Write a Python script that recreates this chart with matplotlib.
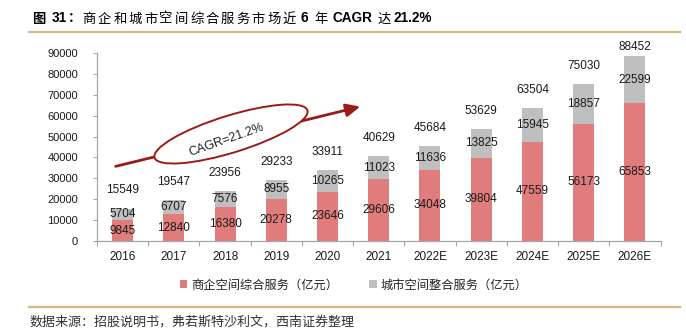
import numpy as np
import matplotlib
matplotlib.use("Agg")
import matplotlib.pyplot as plt
from matplotlib.patches import Patch, Ellipse, FancyArrowPatch
from matplotlib.lines import Line2D

plt.rcParams['font.family'] = ['Liberation Sans', 'Noto Sans CJK SC', 'DejaVu Sans']

# ---- data (亿元) ----
years = ["2016", "2017", "2018", "2019", "2020", "2021",
         "2022E", "2023E", "2024E", "2025E", "2026E"]
commercial = [9845, 12840, 16380, 20278, 23646, 29606,
              34048, 39804, 47559, 56173, 65853]
city = [5704, 6707, 7576, 8955, 10265, 11023,
        11636, 13825, 15945, 18857, 22599]
totals = [15549, 19547, 23956, 29233, 33911, 40629,
          45684, 53629, 63504, 75030, 88452]
legend_labels = ["商企空间综合服务（亿元）", "城市空间整合服务（亿元）"]
cagr_label = "CAGR=21.2%"

RED = "#E07C7C"
GRAY = "#BFBFBF"
DARKRED = "#9B1B1B"
TAN = "#D6B885"
TXT = "#1a1a1a"
CJK = ['Noto Sans CJK SC', 'DejaVu Sans']

W, H, DPI = 686, 333, 100
fig = plt.figure(figsize=(W / DPI, H / DPI), dpi=DPI)


def fx(x):
    return x / W


def fy(y):
    return 1 - y / H


ax = fig.add_axes([fx(97), fy(241), fx(660.5) - fx(97), fy(53) - fy(241)])

x = np.arange(len(years))
bw = 0.41
ax.bar(x, commercial, width=bw, color=RED, zorder=2)
ax.bar(x, city, width=bw, bottom=commercial, color=GRAY, zorder=2)

for i in range(len(years)):
    c, g, t = commercial[i], city[i], totals[i]
    ax.text(i, c / 2, f"{c}", ha="center", va="center", fontsize=8.5, color=TXT, zorder=3)
    ax.text(i, c + g / 2, f"{g}", ha="center", va="center", fontsize=8.5, color=TXT, zorder=3)
    # the tallest bar's total sits closer so it stays inside the frame
    off = 6.5 if i == len(years) - 1 else 13
    ax.annotate(f"{t}", (i, t), xytext=(0, off), textcoords="offset points",
                ha="center", va="center", fontsize=8.5, color=TXT,
                annotation_clip=False)

ax.set_xlim(-0.5, len(years) - 0.5)
ax.set_ylim(0, 90000)
ax.set_yticks(np.arange(0, 90001, 10000))
ax.set_xticks(x)
ax.set_xticklabels(years)
ax.set_xticks(np.arange(-0.5, len(years), 1.0), minor=True)
ax.tick_params(axis="x", which="major", length=0, pad=7, labelsize=8.5, labelcolor=TXT)
ax.tick_params(axis="x", which="minor", length=3.5, color="#A6A6A6", width=0.8)
ax.tick_params(axis="y", length=3, color="#A6A6A6", width=0.8, pad=10.5,
               labelsize=8, labelcolor=TXT)
for s in ["top", "right"]:
    ax.spines[s].set_visible(False)
for s in ["left", "bottom"]:
    ax.spines[s].set_color("#A6A6A6")
    ax.spines[s].set_linewidth(0.9)

# ---- growth arrow with CAGR bubble ----
arrow = FancyArrowPatch((fx(113), fy(167)), (fx(363), fy(106)),
                        transform=fig.transFigure,
                        arrowstyle="-|>,head_length=0.7,head_width=0.32",
                        mutation_scale=12, lw=2.0, color=DARKRED, zorder=5)
fig.add_artist(arrow)
ell = Ellipse((2.31, H / DPI - 1.34), width=1.60, height=0.37, angle=17.2,
              transform=fig.dpi_scale_trans, facecolor="white",
              edgecolor=DARKRED, lw=1.4, zorder=6)
fig.add_artist(ell)
fig.text(fx(227), fy(140), cagr_label, rotation=19.5, rotation_mode="anchor",
         ha="center", va="center", fontsize=9, color="#222222", zorder=7)

# ---- legend ----
handles = [Patch(facecolor=RED, edgecolor="none"), Patch(facecolor=GRAY, edgecolor="none")]
fig.legend(handles, legend_labels, loc="center", bbox_to_anchor=(fx(354), fy(285)),
           ncol=2, frameon=False, prop={"family": CJK, "size": 8.8},
           handlelength=0.6, handleheight=0.6, handletextpad=0.35,
           columnspacing=2.5, labelcolor="#222222")

# ---- header and footer rules ----
fig.add_artist(Line2D([fx(29), fx(680)], [fy(32), fy(32)], color=TAN, lw=1.6,
                      transform=fig.transFigure))
fig.add_artist(Line2D([fx(29), fx(680)], [fy(307), fy(307)], color=TAN, lw=1.6,
                      transform=fig.transFigure))

# ---- title, set token by token with letter spacing ----
renderer = fig.canvas.get_renderer()
cjk_gap = 2.0
title_tokens = [("图", "bold", 6), ("31", "bold", 1.5), ("：", "bold", 1)]
title_tokens += [(ch, "medium", cjk_gap) for ch in "商企和城市空间综合服务市场近"]
title_tokens[-1] = ("近", "medium", 5)
title_tokens += [("6", "bold", 6), ("年", "medium", 5), ("CAGR", "bold", 4.5),
                 ("达", "medium", 3), ("21.2%", "bold", 0)]
cx = 32
for tok, wt, gap in title_tokens:
    fam = ['Liberation Sans'] + CJK if tok.isascii() else CJK
    size = 9.8 if tok.isascii() else 9.6
    t = fig.text(fx(cx), fy(18.5), tok, ha="left", va="center", fontsize=size,
                 fontweight=wt, family=fam, color="black")
    cx += t.get_window_extent(renderer).width + gap

# ---- source note ----
fig.text(fx(30), fy(322), "数据来源：招股说明书，弗若斯特沙利文，西南证券整理",
         ha="left", va="center", fontsize=9.4, family=CJK, color="#333333")

fig.savefig("out.png", dpi=DPI)
